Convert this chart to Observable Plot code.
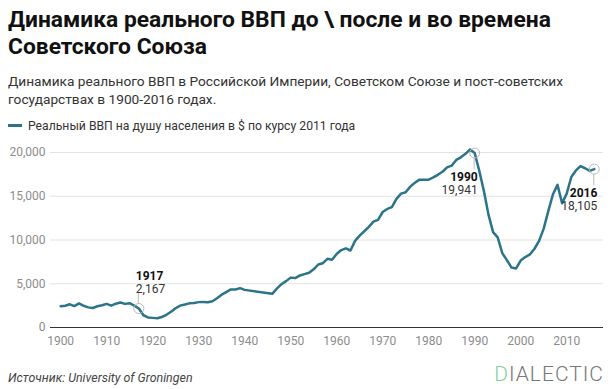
<!DOCTYPE html>
<html><head><meta charset="utf-8">
<script src="https://cdn.jsdelivr.net/npm/d3@7"></script>
<script src="https://cdn.jsdelivr.net/npm/@observablehq/plot@0.6"></script>
<style>
body{margin:0;background:#fff;font-family:Roboto,sans-serif;width:611px;height:389px;overflow:hidden;position:relative}
#title{position:absolute;left:8px;top:6px;font-size:22.8px;font-weight:700;line-height:27px;color:#111;white-space:nowrap}
#sub{position:absolute;left:8px;top:72px;font-size:13.7px;line-height:18px;color:#333;width:600px}
#legend{position:absolute;left:8px;top:119px;font-size:12.2px;line-height:14px;color:#333;white-space:nowrap}
#legend .sw{display:inline-block;width:14px;height:3px;background:#2b7489;vertical-align:middle;margin-right:6px;position:relative;top:-1px}
#chart{position:absolute;left:0;top:140px}
#src{position:absolute;left:8px;top:370px;font-size:12.4px;font-style:italic;color:#444}
#logo{position:absolute;right:7px;top:362px;font-size:21px;font-weight:300;color:#777;letter-spacing:1px}
#logo b{font-weight:300;color:#86cfa0}
</style></head>
<body>
<div id="title">Динамика реального ВВП до \ после и во времена<br>Советского Союза</div>
<div id="sub">Динамика реального ВВП в Российской Империи, Советском Союзе и пост-советских<br>государствах в 1900-2016 годах.</div>
<div id="legend"><span class="sw"></span>Реальный ВВП на душу населения в $ по курсу 2011 года</div>
<div id="chart"></div>
<div id="src">Источник: University of Groningen</div>
<div id="logo"><b>D</b>IALECTIC</div>
<script>
const years = [1900,1901,1902,1903,1904,1905,1906,1907,1908,1909,
1910,1911,1912,1913,1914,1915,1916,1917,1918,1919,
1920,1921,1922,1923,1924,1925,1926,1927,1928,1929,
1930,1931,1932,1933,1934,1935,1936,1937,1938,1939,1940,
1946,1947,1948,1949,1950,1951,1952,1953,1954,1955,1956,1957,1958,1959,
1960,1961,1962,1963,1964,1965,1966,1967,1968,1969,
1970,1971,1972,1973,1974,1975,1976,1977,1978,1979,
1980,1981,1982,1983,1984,1985,1986,1987,1988,1989,
1990,1991,1992,1993,1994,1995,1996,1997,1998,1999,
2000,2001,2002,2003,2004,2005,2006,2007,2008,2009,
2010,2011,2012,2013,2014,2015,2016];
const gdp = [2430,2480,2650,2450,2750,2480,2300,2230,2430,2550,
2700,2500,2720,2850,2700,2780,2500,2167,1400,1150,
1100,1050,1200,1450,1800,2200,2500,2620,2760,2800,
2900,2920,2880,3000,3350,3750,4050,4350,4350,4500,4300,
3850,4450,4950,5300,5700,5650,5950,6100,6250,6650,7200,7350,7850,7750,
8400,8850,9050,8800,9900,10500,11000,11500,12100,12300,
13200,13550,13750,14700,15300,15450,16100,16550,16900,16900,
16900,17150,17450,17800,18300,18500,19150,19450,19850,20350,
19941,17900,15600,12900,10900,10300,8500,7700,6850,6750,
7650,8050,8350,9000,9900,11300,13300,15200,16300,14200,
15300,17200,17950,18450,18200,17900,18105];
const xTicks = [1900,1910,1920,1930,1940,1950,1960,1970,1980,1990,2000,2010];
const yTicks = [0,5000,10000,15000,20000];
const annYears = [1917,1990,2016];
const annValues = [2167,19941,18105];
const annLabels = ["2,167","19,941","18,105"];
const annAbove = [true,false,false];

const rows = years.map((y,i)=>({year:y, gdp:gdp[i]}));
const ann = annYears.map((y,i)=>({year:y, value:annValues[i], label:annLabels[i], above:annAbove[i]}));
const above = ann.filter(d=>d.above), below = ann.filter(d=>!d.above);

const chart = Plot.plot({
  width: 611, height: 210,
  marginLeft: 50, marginRight: 8, marginTop: 12, marginBottom: 23,
  x: {domain: [1897.8, 2018], ticks: xTicks, tickFormat: d => String(d), tickSize: 0, tickPadding: 9, label: null},
  y: {domain: [0, 20000], ticks: yTicks, tickFormat: d3.format(","), tickSize: 0, tickPadding: 5, label: null},
  style: {fontFamily: "Roboto, sans-serif", fontSize: "12px", color: "#8c8c8c", background: "white", overflow: "visible"},
  marks: [
    Plot.ruleY(yTicks.filter(d=>d>0), {stroke: "#e3e3e3"}),
    Plot.ruleY([0], {stroke: "#333", strokeWidth: 1.2}),
    Plot.line(rows, {x:"year", y:"gdp", stroke:"#2b7489", strokeWidth:2.5}),
    Plot.dot(ann, {x:"year", y:"value", r:5, stroke:"#bbb", fill:"none", strokeWidth:1}),
    Plot.text(above, {x:"year", y:"value", text:d=>String(d.year), lineAnchor:"bottom", textAnchor:"start", dx:-3, dy:-29, fontWeight:700, fontSize:12, fill:"#111"}),
    Plot.text(above, {x:"year", y:"value", text:"label", lineAnchor:"bottom", textAnchor:"start", dx:-3, dy:-16, fontSize:12, fill:"#333"}),
    Plot.text(below, {x:"year", y:"value", text:d=>String(d.year), lineAnchor:"bottom", textAnchor:"end", dx:3, dy:27.5, fontWeight:700, fontSize:12, fill:"#111"}),
    Plot.text(below, {x:"year", y:"value", text:"label", lineAnchor:"bottom", textAnchor:"end", dx:3, dy:41, fontSize:12, fill:"#333"})
  ]
});
document.getElementById("chart").appendChild(chart);
// leader lines via the plot's own scales
const sx = chart.scale("x"), sy = chart.scale("y");
const svg = d3.select(chart);
svg.append("g").selectAll("line").data(ann).join("line")
  .attr("x1", d=>sx.apply(d.year)).attr("x2", d=>sx.apply(d.year))
  .attr("y1", d=>sy.apply(d.value) + (d.above ? -5 : 5))
  .attr("y2", d=>sy.apply(d.value) + (d.above ? -15 : 17))
  .attr("stroke", "#bbb").attr("stroke-width", 1);
</script>
</body></html>
